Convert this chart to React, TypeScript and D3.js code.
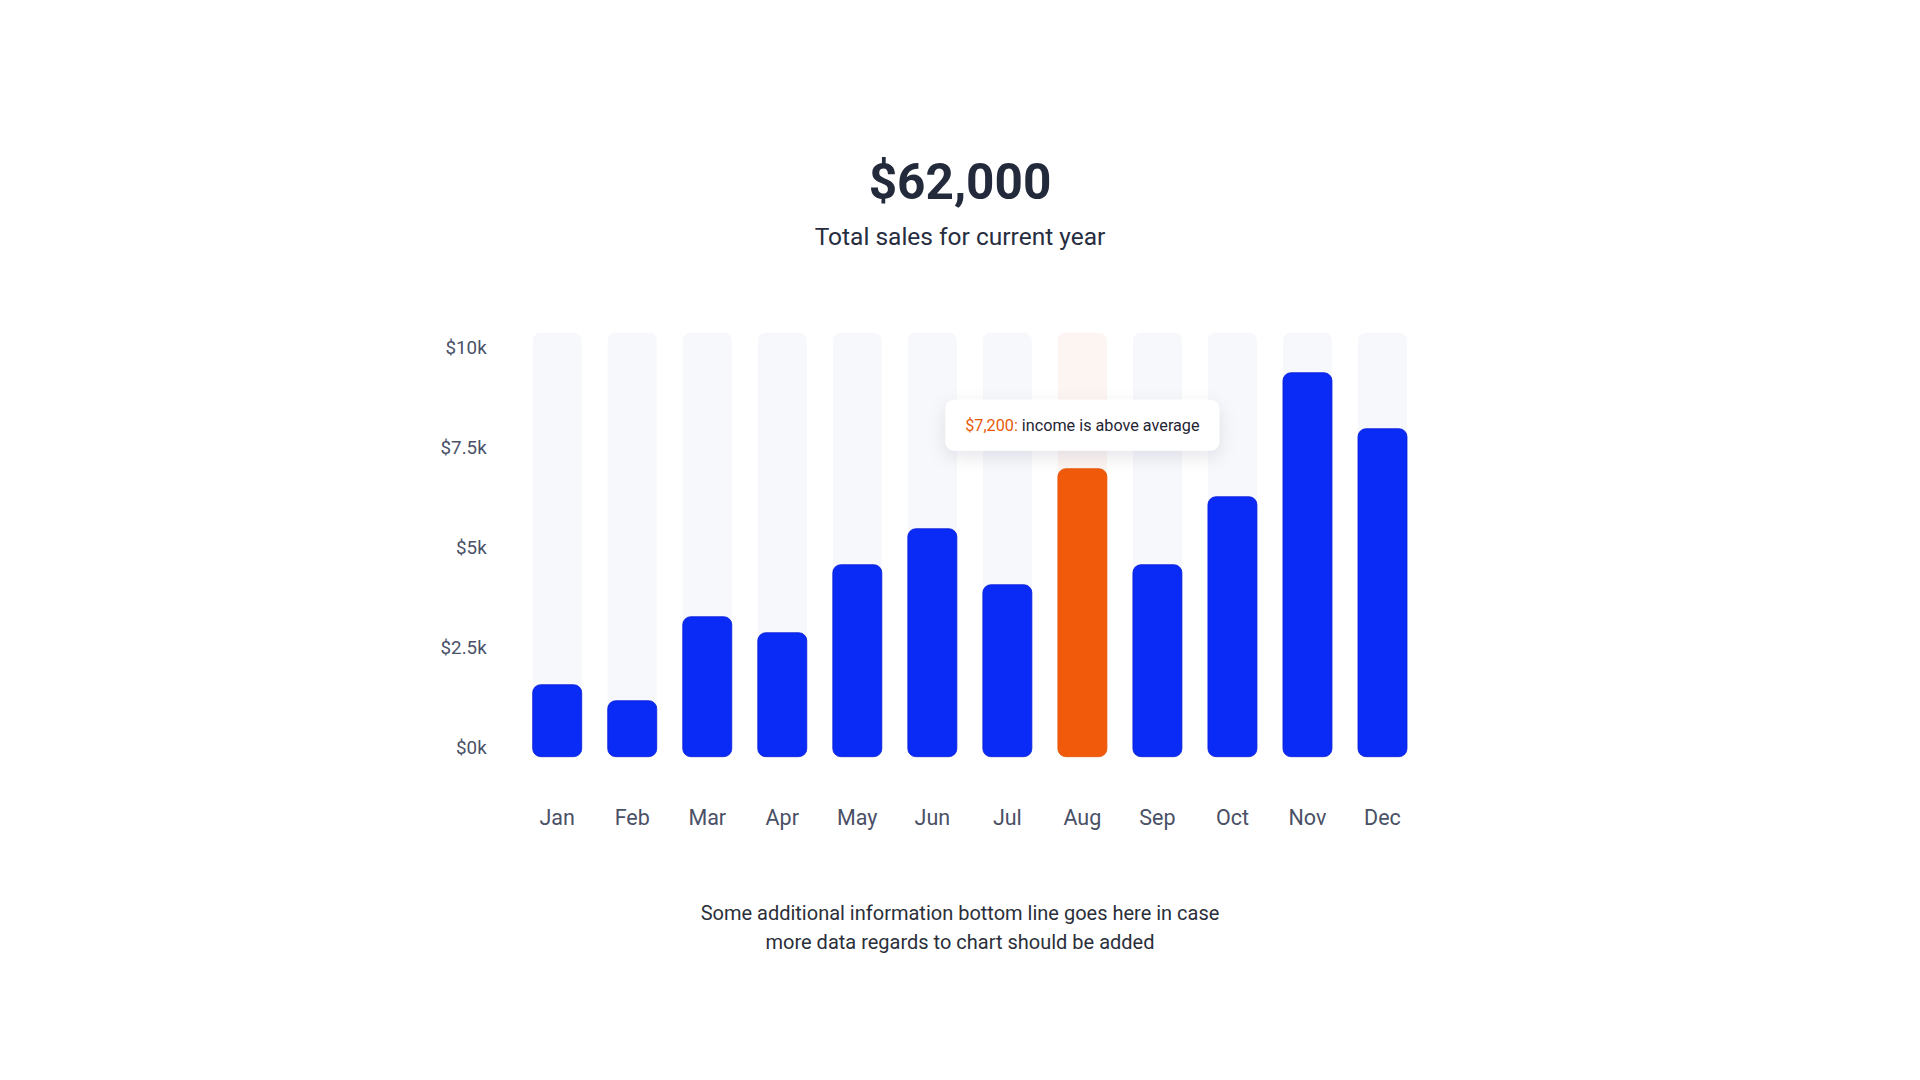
import React from "react";
import * as d3 from "d3";

const months = ["Jan", "Feb", "Mar", "Apr", "May", "Jun", "Jul", "Aug", "Sep", "Oct", "Nov", "Dec"];
const sales = [1800, 1400, 3500, 3100, 4800, 5700, 4300, 7200, 4800, 6500, 9600, 8200];
const yTicks = [0, 2500, 5000, 7500, 10000];
const yTickLabels = ["$0k", "$2.5k", "$5k", "$7.5k", "$10k"];
const highlightMonth = "Aug";
const totalLabel = "$62,000";
const subtitle = "Total sales for current year";
const tooltipValue = "$7,200:";
const tooltipText = " income is above average";
const footerLines = [
  "Some additional information bottom line goes here in case",
  "more data regards to chart should be added",
];

const W = 1920;
const H = 1080;
const FONT = "Roboto, 'Noto Sans', sans-serif";
const BLUE = "#0a2af5";
const ORANGE = "#f05a0a";

export default function App() {
  const x = d3
    .scaleBand<string>()
    .domain(months)
    .range([519.7, 1420])
    .paddingInner(0.3467)
    .paddingOuter(0.1733);
  const y = d3.scaleLinear().domain([0, 10000]).range([756.7, 356.7]);
  const bw = x.bandwidth();
  const trackTop = y(10600);
  const r = 8;

  const hiIdx = months.indexOf(highlightMonth);
  const hiX = (x(highlightMonth) as number) + bw / 2;
  const hiTop = y(sales[hiIdx]);
  const tipW = 274;
  const tipH = 51;
  const tipY = hiTop - 18 - tipH;

  return (
    <svg
      width={W}
      height={H}
      style={{ position: "absolute", left: 0, top: 0, background: "#fff" }}
      fontFamily={FONT}
    >
      <defs>
        <filter id="tipShadow" x="-30%" y="-60%" width="160%" height="240%">
          <feDropShadow dx="0" dy="6" stdDeviation="9" floodColor="#1b2340" floodOpacity="0.10" />
        </filter>
      </defs>

      <text x={960} y={198.5} textAnchor="middle" fontSize={49.5} fontWeight={700} fill="#232a3b">
        {totalLabel}
      </text>
      <text x={960} y={245} textAnchor="middle" fontSize={24.5} fill="#272d3f">
        {subtitle}
      </text>

      {yTicks.map((t, i) => (
        <text key={t} x={486.7} y={y(t) - 2.4} textAnchor="end" fontSize={18.8} fill="#4a5168">
          {yTickLabels[i]}
        </text>
      ))}

      {months.map((m) => (
        <rect
          key={"bg" + m}
          x={x(m)}
          y={trackTop}
          width={bw}
          height={y(0) - trackTop}
          rx={r}
          fill={m === highlightMonth ? "#fcf5f2" : "#f7f8fb"}
        />
      ))}

      {months.map((m, i) => (
        <rect
          key={"bar" + m}
          x={x(m)}
          y={y(sales[i])}
          width={bw}
          height={y(0) - y(sales[i])}
          rx={r}
          fill={m === highlightMonth ? ORANGE : BLUE}
          stroke={m === highlightMonth ? "#e25306" : "#0a20d8"}
          strokeWidth={0.8}
        />
      ))}

      {months.map((m) => (
        <text
          key={"lbl" + m}
          x={(x(m) as number) + bw / 2}
          y={825}
          textAnchor="middle"
          fontSize={21.5}
          fill="#4a5066"
        >
          {m}
        </text>
      ))}

      <g filter="url(#tipShadow)">
        <rect x={hiX - tipW / 2} y={tipY} width={tipW} height={tipH} rx={9} fill="#ffffff" />
      </g>
      <text x={hiX} y={tipY + 31} textAnchor="middle" fontSize={16.2} fill="#1f2433">
        <tspan fill="#e8590c">{tooltipValue}</tspan>
        <tspan>{tooltipText}</tspan>
      </text>

      {footerLines.map((l, i) => (
        <text key={i} x={960} y={920 + i * 29} textAnchor="middle" fontSize={20} fill="#2b2f3a">
          {l}
        </text>
      ))}
    </svg>
  );
}
